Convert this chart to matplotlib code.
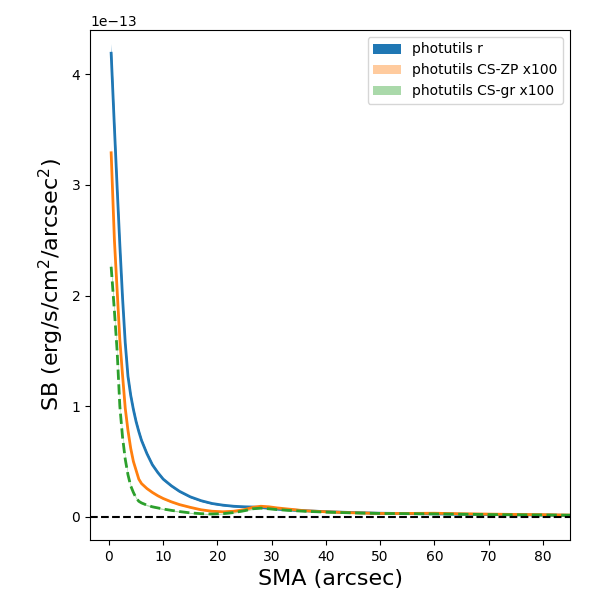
import numpy as np
import matplotlib
matplotlib.use("Agg")
import matplotlib.pyplot as plt

# surface brightness profiles, units of 1e-13 erg/s/cm^2/arcsec^2
sma = np.array([0.4, 1.0, 1.5, 2.0, 2.5, 3.0, 3.5, 4.0, 4.5, 5.0, 5.5, 6.0, 7.0, 8.0,
                9.0, 10.0, 11.5, 13.0, 15.0, 17.0, 19.0, 21.0, 23.0, 25.0, 26.5, 28.0,
                29.5, 31.0, 33.0, 36.0, 40.0, 45.0, 50.0, 55.0, 60.0, 65.0, 70.0, 75.0,
                80.0, 85.0])

sb_r = np.array([4.19, 3.52, 2.98, 2.46, 1.98, 1.57, 1.27, 1.10, 0.97, 0.86, 0.77, 0.69,
                 0.57, 0.47, 0.40, 0.34, 0.28, 0.23, 0.18, 0.145, 0.12, 0.105, 0.095,
                 0.09, 0.088, 0.085, 0.078, 0.07, 0.063, 0.055, 0.046, 0.038, 0.032,
                 0.029, 0.026, 0.023, 0.021, 0.018, 0.016, 0.013])

sb_zp = np.array([3.29, 2.50, 2.05, 1.60, 1.28, 0.98, 0.78, 0.62, 0.50, 0.42, 0.34, 0.30,
                  0.255, 0.22, 0.19, 0.165, 0.135, 0.11, 0.085, 0.063, 0.05, 0.045, 0.05,
                  0.065, 0.085, 0.095, 0.09, 0.08, 0.07, 0.055, 0.045, 0.036, 0.03, 0.03,
                  0.032, 0.027, 0.024, 0.021, 0.019, 0.015])

sb_gr = np.array([2.26, 1.86, 1.50, 1.00, 0.72, 0.52, 0.38, 0.28, 0.22, 0.17, 0.14, 0.125,
                  0.105, 0.09, 0.08, 0.07, 0.058, 0.047, 0.035, 0.028, 0.025, 0.028, 0.038,
                  0.055, 0.072, 0.078, 0.072, 0.065, 0.058, 0.05, 0.042, 0.035, 0.03,
                  0.028, 0.026, 0.023, 0.02, 0.018, 0.016, 0.014])

labels = ["photutils r", "photutils CS-ZP x100", "photutils CS-gr x100"]

scale = 1e-13
err_frac = 0.02
err_abs = 0.004

fig, ax = plt.subplots(figsize=(6, 6), dpi=100)
fig.subplots_adjust(left=0.15, right=0.95, bottom=0.1, top=0.95)

profiles = [sb_r, sb_zp, sb_gr]
colors = ["C0", "C1", "C2"]
alphas = [1.0, 0.4, 0.4]
styles = ["-", "-", "--"]
for sb, c, a, ls, lab in zip(profiles, colors, alphas, styles, labels):
    err = err_frac * sb + err_abs
    ax.fill_between(sma, (sb - err) * scale, (sb + err) * scale, color=c, alpha=a,
                    lw=0, label=lab)
    ax.plot(sma, sb * scale, color=c, ls=ls, lw=2)

ax.axhline(0, color="k", ls="--")
ax.set_xlim(-3.5, 85)
ax.set_ylim(-0.21 * scale, 4.40 * scale)
ax.set_xlabel("SMA (arcsec)", fontsize=16)
ax.set_ylabel("SB (erg/s/cm$^2$/arcsec$^2$)", fontsize=16)
ax.legend(loc="upper right")

plt.savefig("out.png")
